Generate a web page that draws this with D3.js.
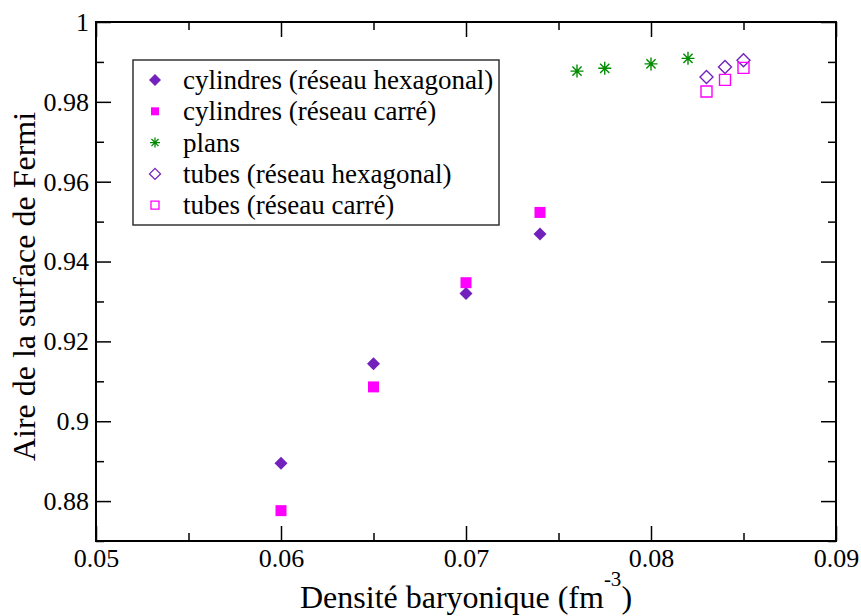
<!DOCTYPE html>
<html>
<head>
<meta charset="utf-8">
<script src="https://cdn.jsdelivr.net/npm/d3@7"></script>
<style>
  body { margin: 0; background: #fff; }
</style>
</head>
<body>
<svg width="861" height="616"></svg>
<script>
// series
let cylHexX = [0.060, 0.065, 0.070, 0.074],
    cylHexY = [0.8895, 0.9144, 0.9320, 0.9469];
let cylCarX = [0.060, 0.065, 0.070, 0.074],
    cylCarY = [0.8776, 0.9086, 0.9347, 0.9523];
let plansX = [0.076, 0.0775, 0.080, 0.082],
    plansY = [0.9877, 0.9884, 0.9895, 0.9909];
let tubHexX = [0.083, 0.084, 0.085],
    tubHexY = [0.9862, 0.9887, 0.9904];
let tubCarX = [0.083, 0.084, 0.085],
    tubCarY = [0.9826, 0.9855, 0.9885];

let legendLabels = ["cylindres (réseau hexagonal)", "cylindres (réseau carré)", "plans",
    "tubes (réseau hexagonal)", "tubes (réseau carré)"];
let xTicks = [0.05, 0.06, 0.07, 0.08, 0.09],
    xMinor = [0.055, 0.065, 0.075, 0.085];
let yTicks = [0.88, 0.9, 0.92, 0.94, 0.96, 0.98, 1],
    yMinor = [0.87, 0.89, 0.91, 0.93, 0.95, 0.97, 0.99];

let serif = "'Liberation Serif', 'Times New Roman', Times, serif";

let svg = d3.select("svg"),
    margin = {top: 22, right: 25, bottom: 75, left: 96},
    width = +svg.attr("width") - margin.left - margin.right,
    height = +svg.attr("height") - margin.top - margin.bottom,
    g = svg.append("g").attr("transform", "translate(" + margin.left + "," + margin.top + ")");

let x = d3.scaleLinear().domain([0.05, 0.09]).range([0, width]);
let y = d3.scaleLinear().domain([0.87, 1]).range([height, 0]);

let indigo = "rgb(114,33,188)", magenta = "#ff00ff", green = "rgb(0,139,0)";

// axes: major and minor ticks pointing inward, on all four sides
function addAxis(axis, tx, ty) {
    let a = g.append("g").attr("transform", "translate(" + tx + "," + ty + ")").call(axis);
    a.attr("font-family", serif).attr("font-size", 26);
    a.select(".domain").remove();
    a.selectAll("line").attr("stroke", "#000").attr("stroke-width", 1.5);
    a.selectAll("text").style("font-family", serif).style("font-size", "26px").attr("fill", "#000");
    return a;
}
addAxis(d3.axisBottom(x).tickValues(xTicks).tickSize(-15).tickPadding(8).tickFormat(d3.format("")), 0, height);
addAxis(d3.axisBottom(x).tickValues(xMinor).tickSize(-8).tickFormat(""), 0, height);
addAxis(d3.axisTop(x).tickValues(xTicks).tickSize(-15).tickFormat(""), 0, 0);
addAxis(d3.axisTop(x).tickValues(xMinor).tickSize(-8).tickFormat(""), 0, 0);
addAxis(d3.axisLeft(y).tickValues(yTicks).tickSize(-15).tickPadding(7).tickFormat(d3.format("")), 0, 0);
addAxis(d3.axisLeft(y).tickValues(yMinor).tickSize(-8).tickFormat(""), 0, 0);
addAxis(d3.axisRight(y).tickValues(yTicks).tickSize(-15).tickFormat(""), width, 0);
addAxis(d3.axisRight(y).tickValues(yMinor).tickSize(-8).tickFormat(""), width, 0);

g.append("rect")
    .attr("width", width).attr("height", height)
    .attr("fill", "none").attr("stroke", "#000").attr("stroke-width", 2);

// marker shapes
function diamond(r) {
    return "M0," + (-r) + "L" + r + ",0L0," + r + "L" + (-r) + ",0Z";
}
function square(s) {
    return "M" + (-s / 2) + "," + (-s / 2) + "h" + s + "v" + s + "h" + (-s) + "Z";
}
function asterisk(r) {
    let p = d3.path(), k = r * Math.SQRT1_2;
    p.moveTo(-r, 0); p.lineTo(r, 0);
    p.moveTo(0, -r); p.lineTo(0, r);
    p.moveTo(-k, -k); p.lineTo(k, k);
    p.moveTo(-k, k); p.lineTo(k, -k);
    return p.toString();
}

let series = [
    {xs: cylHexX, ys: cylHexY, d: diamond(6.5), fill: indigo, stroke: "none", ld: diamond(6)},
    {xs: cylCarX, ys: cylCarY, d: square(11), fill: magenta, stroke: "none", ld: square(8)},
    {xs: plansX, ys: plansY, d: asterisk(6.5), fill: "none", stroke: green, ld: asterisk(5)},
    {xs: tubHexX, ys: tubHexY, d: diamond(6.5), fill: "none", stroke: indigo, ld: diamond(5.5)},
    {xs: tubCarX, ys: tubCarY, d: square(11), fill: "none", stroke: magenta, ld: square(8)}
];

series.forEach(function (s) {
    g.selectAll(null)
        .data(d3.range(s.xs.length))
        .enter()
        .append("path")
        .attr("d", s.d)
        .attr("fill", s.fill)
        .attr("stroke", s.stroke)
        .attr("stroke-width", 1.4)
        .attr("transform", function (i) {
            return "translate(" + x(s.xs[i]) + "," + y(s.ys[i]) + ")";
        });
});

// legend
let legend = svg.append("g").attr("transform", "translate(133,60)");
legend.append("rect")
    .attr("width", 366).attr("height", 165)
    .attr("fill", "#fff").attr("stroke", "#333").attr("stroke-width", 1.5);
let rows = legend.selectAll("g.row")
    .data(series)
    .enter()
    .append("g")
    .attr("class", "row")
    .attr("transform", function (d, i) {
        return "translate(0," + (20 + i * 31.3) + ")";
    });
rows.append("path")
    .attr("transform", "translate(22,0)")
    .attr("d", function (d) { return d.ld; })
    .attr("fill", function (d) { return d.fill; })
    .attr("stroke", function (d) { return d.stroke; })
    .attr("stroke-width", 1.3);
rows.append("text")
    .attr("x", 50)
    .attr("y", 9)
    .style("font-family", serif)
    .style("font-size", "27px")
    .text(function (d, i) { return legendLabels[i]; });

// axis titles
let xTitle = svg.append("text")
    .attr("x", margin.left + width / 2)
    .attr("y", 608)
    .attr("text-anchor", "middle")
    .style("font-family", serif)
    .style("font-size", "32px");
xTitle.append("tspan").text("Densité baryonique (fm");
xTitle.append("tspan").attr("dy", -22).style("font-size", "21px").text("-3");
xTitle.append("tspan").attr("dy", 22).text(")");

svg.append("text")
    .attr("transform", "translate(35," + (margin.top + height / 2 + 5) + ") rotate(-90)")
    .attr("text-anchor", "middle")
    .style("font-family", serif)
    .style("font-size", "32px")
    .text("Aire de la surface de Fermi");
</script>
</body>
</html>
